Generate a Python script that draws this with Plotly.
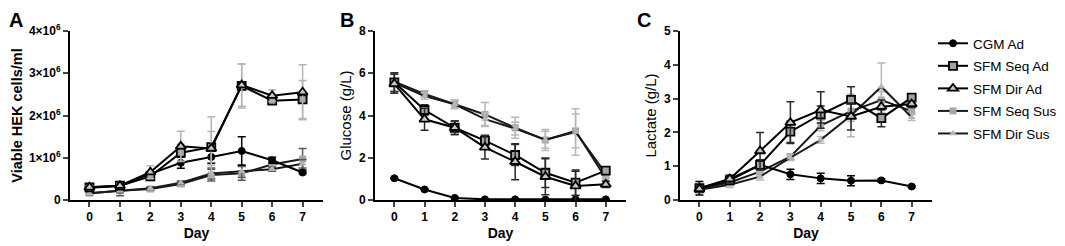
import plotly.graph_objects as go

days = [0, 1, 2, 3, 4, 5, 6, 7]
series_names = ["CGM Ad", "SFM Seq Ad", "SFM Dir Ad", "SFM Seq Sus", "SFM Dir Sus"]

# Panel A: viable cells (x1e6 cells/ml)
cells_cgm_ad = [0.29, 0.33, 0.62, 0.88, 1.02, 1.16, 0.94, 0.65]
cells_seq_ad = [0.30, 0.34, 0.56, 1.12, 1.25, 2.70, 2.35, 2.38]
cells_dir_ad = [0.30, 0.34, 0.66, 1.27, 1.22, 2.72, 2.47, 2.55]
cells_seq_sus = [0.16, 0.22, 0.26, 0.38, 0.59, 0.63, 0.84, 0.97]
cells_dir_sus = [0.16, 0.22, 0.28, 0.41, 0.63, 0.68, 0.73, 0.86]
cells_err_cgm_ad = [0.03, 0.05, 0.05, 0.13, 0.15, 0.34, 0.07, 0.03]
cells_err_seq_ad = [0.03, 0.04, 0.10, 0.20, 0.72, 0.52, 0.08, 0.45]
cells_err_dir_ad = [0.03, 0.04, 0.15, 0.36, 0.40, 0.50, 0.14, 0.65]
cells_err_seq_sus = [0.03, 0.12, 0.04, 0.05, 0.14, 0.16, 0.06, 0.25]
cells_err_dir_sus = [0.03, 0.05, 0.03, 0.04, 0.13, 0.15, 0.05, 0.10]

# Panel B: glucose (g/L)
glc_cgm_ad = [1.03, 0.50, 0.10, 0.03, 0.03, 0.02, 0.03, 0.03]
glc_seq_ad = [5.57, 4.26, 3.42, 2.81, 2.13, 1.29, 0.82, 1.39]
glc_dir_ad = [5.50, 3.82, 3.42, 2.49, 1.81, 1.10, 0.66, 0.74]
glc_seq_sus = [5.60, 5.02, 4.53, 4.05, 3.42, 2.84, 3.27, 1.03]
glc_dir_sus = [5.55, 4.92, 4.53, 3.83, 3.38, 2.85, 3.22, 1.25]
glc_err_cgm_ad = [0.03, 0.03, 0.03, 0.02, 0.02, 0.02, 0.02, 0.02]
glc_err_seq_ad = [0.45, 0.25, 0.32, 0.25, 0.50, 0.70, 0.60, 0.15]
glc_err_dir_ad = [0.45, 0.52, 0.32, 0.55, 0.85, 0.85, 0.70, 0.15]
glc_err_seq_sus = [0.40, 0.15, 0.20, 0.57, 0.50, 0.50, 0.80, 0.25]
glc_err_dir_sus = [0.40, 0.15, 0.20, 0.30, 0.30, 0.40, 1.10, 0.20]

# Panel C: lactate (g/L)
lac_cgm_ad = [0.35, 0.62, 1.04, 0.76, 0.64, 0.57, 0.58, 0.40]
lac_seq_ad = [0.35, 0.58, 1.04, 2.02, 2.53, 2.96, 2.42, 3.03]
lac_dir_ad = [0.33, 0.62, 1.45, 2.29, 2.66, 2.47, 2.76, 2.84]
lac_seq_sus = [0.33, 0.52, 0.84, 1.28, 2.20, 2.63, 2.96, 2.63]
lac_dir_sus = [0.30, 0.45, 0.69, 1.25, 1.78, 2.50, 3.35, 2.45]
lac_err_cgm_ad = [0.20, 0.10, 0.10, 0.15, 0.15, 0.15, 0.05, 0.03]
lac_err_seq_ad = [0.10, 0.10, 0.15, 0.32, 0.25, 0.39, 0.25, 0.10]
lac_err_dir_ad = [0.10, 0.12, 0.55, 0.62, 0.54, 0.40, 0.20, 0.10]
lac_err_seq_sus = [0.10, 0.08, 0.10, 0.08, 0.15, 0.30, 0.25, 0.10]
lac_err_dir_sus = [0.10, 0.08, 0.10, 0.08, 0.10, 0.63, 0.70, 0.10]

a_ticks = [0, 1, 2, 3, 4]
a_ticktext = ["0", "1×10<sup>6</sup>", "2×10<sup>6</sup>", "3×10<sup>6</sup>", "4×10<sup>6</sup>"]

styles = {
    "CGM Ad": dict(symbol="circle", color="#000000", size=7, line=dict(color="#000000", width=1)),
    "SFM Seq Ad": dict(symbol="square", color="#a3a3a3", size=8, line=dict(color="#000000", width=1.8)),
    "SFM Dir Ad": dict(symbol="triangle-up", color="#c8c8c8", size=9, line=dict(color="#000000", width=1.8)),
    "SFM Seq Sus": dict(symbol="square", color="#a8a8a8", size=7, line=dict(color="#a8a8a8", width=0)),
    "SFM Dir Sus": dict(symbol="triangle-up", color="#b4b4b4", size=7, line=dict(color="#b4b4b4", width=0)),
}
line_colors = {"CGM Ad": "#000000", "SFM Seq Ad": "#000000", "SFM Dir Ad": "#000000",
               "SFM Seq Sus": "#1a1a1a", "SFM Dir Sus": "#1a1a1a"}

panels = [
    ("x", "y", [cells_cgm_ad, cells_seq_ad, cells_dir_ad, cells_seq_sus, cells_dir_sus],
     [cells_err_cgm_ad, cells_err_seq_ad, cells_err_dir_ad, cells_err_seq_sus, cells_err_dir_sus],
     ["#000000", "#b5b5b5", "#b5b5b5", "#5a5a5a", "#5a5a5a"]),
    ("x2", "y2", [glc_cgm_ad, glc_seq_ad, glc_dir_ad, glc_seq_sus, glc_dir_sus],
     [glc_err_cgm_ad, glc_err_seq_ad, glc_err_dir_ad, glc_err_seq_sus, glc_err_dir_sus],
     ["#000000", "#2a2a2a", "#2a2a2a", "#b8b8b8", "#b8b8b8"]),
    ("x3", "y3", [lac_cgm_ad, lac_seq_ad, lac_dir_ad, lac_seq_sus, lac_dir_sus],
     [lac_err_cgm_ad, lac_err_seq_ad, lac_err_dir_ad, lac_err_seq_sus, lac_err_dir_sus],
     ["#000000", "#2a2a2a", "#2a2a2a", "#b8b8b8", "#b8b8b8"]),
]

fig = go.Figure()
order = [3, 4, 0, 1, 2]  # draw sus first, ad on top
for pi, (xa, ya, vals, errs, ecols) in enumerate(panels):
    for si in order:
        name = series_names[si]
        st = styles[name]
        fig.add_trace(go.Scatter(
            x=days, y=vals[si], name=name, mode="lines+markers",
            xaxis=xa, yaxis=ya, showlegend=(pi == 2), legendrank=si + 1,
            legendgroup=name,
            line=dict(color=line_colors[name], width=2),
            marker=dict(symbol=st["symbol"], color=st["color"], size=st["size"], line=st["line"]),
            error_y=dict(type="data", array=errs[si], color=ecols[si], thickness=1.5, width=4),
        ))

font = "Liberation Sans, Arial, sans-serif"
# page body has an 8px margin, so the figure is 8px smaller and positions are shifted by 8px
OFF = 8
W, H = 1065 - OFF, 246 - OFF
def xd(a, b):
    return [(a - OFF) / W, (b - OFF) / W]
ydom = [(246 - 200) / H, (246 - 31) / H]

common_x = dict(range=[-0.64, 7.67], tickvals=days, ticks="outside", ticklen=5, tickwidth=2,
                showline=True, linecolor="#000000", linewidth=2, showgrid=False, zeroline=False,
                tickfont=dict(family=font, size=12, color="#000000", weight="bold"),
                title=dict(text="<b>Day</b>", font=dict(family=font, size=14, color="#000000"), standoff=5),
                fixedrange=True, automargin=False)
common_y = dict(ticks="outside", ticklen=5, tickwidth=2, showline=True, linecolor="#000000", linewidth=2,
                showgrid=False, zeroline=False,
                tickfont=dict(family=font, size=12, color="#000000", weight="bold"),
                fixedrange=True, automargin=False)

fig.update_layout(
    width=W, height=H, margin=dict(l=0, r=0, t=0, b=0, autoexpand=False),
    paper_bgcolor="white", plot_bgcolor="white",
    font=dict(family=font, color="#000000"),
    xaxis=dict(domain=xd(70, 323), anchor="y", **common_x),
    xaxis2=dict(domain=xd(375, 626), anchor="y2", **common_x),
    xaxis3=dict(domain=xd(680, 932), anchor="y3", **common_x),
    yaxis=dict(domain=ydom, anchor="x", range=[0, 4], tickvals=a_ticks, ticktext=a_ticktext,
               title=dict(text="<b>Viable HEK cells/ml</b>", font=dict(family=font, size=14.5), standoff=3), **common_y),
    yaxis2=dict(domain=ydom, anchor="x2", range=[0, 8], tickvals=[0, 2, 4, 6, 8],
                title=dict(text="Glucose (g/L)", font=dict(family=font, size=15), standoff=4), **common_y),
    yaxis3=dict(domain=ydom, anchor="x3", range=[0, 5], tickvals=[0, 1, 2, 3, 4, 5],
                title=dict(text="Lactate (g/L)", font=dict(family=font, size=15), standoff=4), **common_y),
    legend=dict(x=(933 - OFF) / W, y=1 - (28 - OFF) / H, xanchor="left", yanchor="top",
                font=dict(family=font, size=13.5, color="#000000"), tracegroupgap=2,
                itemwidth=30, bgcolor="rgba(0,0,0,0)", borderwidth=0),
    showlegend=True,
)

for txt, x in [("A", 0), ("B", 331), ("C", 628)]:
    fig.add_annotation(text=f"<b>{txt}</b>", x=x / W, y=1, xref="paper", yref="paper",
                       xanchor="left", yanchor="top", showarrow=False, borderpad=0,
                       font=dict(family=font, size=20, color="#000000"))

fig.write_html("out.html")
